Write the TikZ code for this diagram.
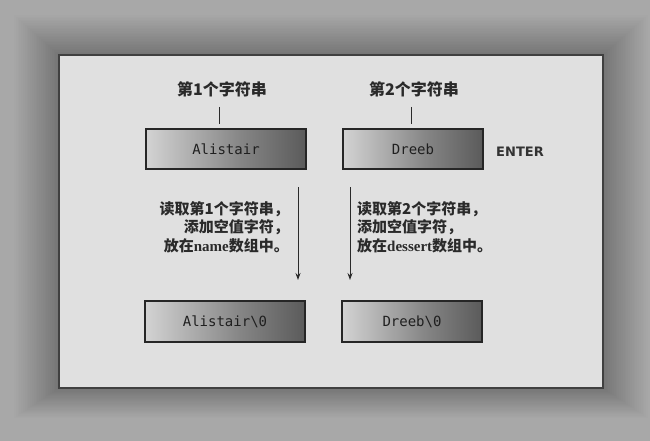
\documentclass[tikz,border=0pt]{standalone}
\usepackage{fontspec}
\newfontfamily\cjk{Noto Sans CJK SC}
\newfontfamily\monof{DejaVu Sans Mono}
\newfontfamily\sansf{DejaVu Sans}
\newfontfamily\serf{Liberation Serif}
\usetikzlibrary{arrows.meta}
\pgfdeclarehorizontalshading{boxshade}{100bp}{color(0bp)=(black!30); color(4bp)=(white); color(14bp)=(white!94!black); color(55bp)=(black!48); color(100bp)=(black!85)}
\definecolor{bgc}{HTML}{A8A8A8}
\definecolor{framec}{HTML}{E0E0E0}
\definecolor{inkc}{HTML}{2A2A2A}
\tikzset{
  strbox/.style={draw=black!85, line width=1.3pt, shading=boxshade, minimum height=40pt, inner sep=0pt, font=\monof\fontsize{14}{16}\selectfont, text=black!88},
  title/.style={font=\cjk\bfseries\fontsize{16}{18}\selectfont, text=inkc, inner sep=0pt},
  note/.style={font=\cjk\bfseries\fontsize{15}{18.5}\selectfont, text=inkc, inner sep=0pt},
  tick/.style={draw=inkc, line width=0.9pt},
  flow/.style={draw=inkc, line width=0.9pt, -{Stealth[length=7pt,width=5pt]}}
}
\begin{document}
\begin{tikzpicture}[x=1pt,y=-1pt]
\useasboundingbox (0,0) rectangle (650,441);
\fill[bgc] (0,0) rectangle (650,441);
\foreach \i in {0,...,24}{
  \fill[black, opacity=0.012] (59-45+1.8*\i,55-40+1.6*\i) rectangle (603+45-1.8*\i,388+30-1.2*\i);
}
\draw[fill=framec, draw=black!75, line width=1.2pt] (59,55) rectangle (603,388);
% titles
\node[title] (t1) at (222,89) {第1个字符串};
\node[title] (t2) at (414,89) {第2个字符串};
% boxes
\node[strbox, minimum width=160pt] (b1) at (226,149) {Alistair};
\node[strbox, minimum width=140pt] (b2) at (413,149) {Dreeb};
\node[strbox, minimum width=160pt, minimum height=41pt] (b3) at (225,321.5) {Alistair\textbackslash 0};
\node[strbox, minimum width=140pt, minimum height=41pt] (b4) at (412,321.5) {Dreeb\textbackslash 0};
\node[font=\sansf\bfseries\fontsize{13}{15}\selectfont, text=black!80, inner sep=0pt] (enter) at (520,152) {ENTER};
% ticks
\coordinate (k1a) at (219,107); \coordinate (k1b) at (219,124);
\coordinate (k2a) at (411,107); \coordinate (k2b) at (411,124);
\draw[tick] (k1a) -- (k1b);
\draw[tick] (k2a) -- (k2b);
% arrows
\coordinate (a1s) at (298,187); \coordinate (a1e) at (298,280);
\coordinate (a2s) at (350,187); \coordinate (a2e) at (350,280);
\draw[flow] (a1s) -- (a1e);
\draw[flow] (a2s) -- (a2e);
% notes
\node[note, anchor=east, align=right] (n1) at (289,227) {读取第1个字符串，\\添加空值字符，\\放在{\serf\bfseries name}数组中。};
\node[note, anchor=west, align=left] (n2) at (357,227) {读取第2个字符串，\\添加空值字符，\\放在{\serf\bfseries dessert}数组中。};
\end{tikzpicture}
\end{document}
